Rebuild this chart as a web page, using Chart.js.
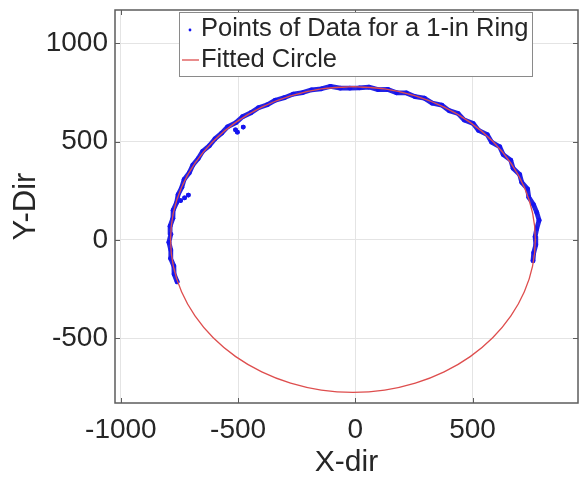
<!DOCTYPE html>
<html><head><meta charset="utf-8">
<script src="https://cdn.jsdelivr.net/npm/chart.js@4/dist/chart.umd.min.js"></script>
<style>html,body{margin:0;padding:0;background:#fff;}#wrap{width:582px;height:479px;}</style>
</head><body><div id="wrap"><canvas id="c" width="582" height="479"></canvas></div>
<script>
const xTickValues = [-1000, -500, 0, 500];
const yTickValues = [-500, 0, 500, 1000];
const seriesLabels = ['Points of Data for a 1-in Ring', 'Fitted Circle'];
const xTitle = 'X-dir';
const yTitle = 'Y-Dir';

// measured ring points (upper arc, left end -> right end)
const ringX = [-760,-773,-774,-788,-787,-795,-787,-790,-778,-777,-762,-756,-740,-730,-708,-693,-670,-651,-622,-599,-570,-545,-509,-481,-445,-413,-375,-341,-302,-265,-224,-186,-145,-106,-64,-23,17,58,97,139,176,218,255,295,328,369,400,439,465,503,526,563,581,616,631,663,673,701,710,735,740,760,774,784,774,767,770,761,758];
const ringY = [-213,-174,-133,-94,-52,-12,29,70,110,151,190,230,268,308,342,381,414,451,480,514,543,575,597,627,647,673,688,711,724,742,750,764,769,781,772,772,774,778,765,766,749,748,729,721,696,686,658,643,610,592,557,536,498,474,434,406,365,333,293,259,217,180,140,100,57,16,-25,-66,-106];
// stray points inside the ring
const strayX = [-745,-728,-712,-511,-503,-478];
const strayY = [200,214,228,560,548,574];

// fitted circle
const circleX = [-10,-145.1,-276.1,-399,-510.1,-606,-683.8,-741.1,-776.2,-788,-776.2,-741.1,-683.8,-606,-510.1,-399,-276.1,-145.1,-10,125.1,256.1,379,490.1,586,663.8,721.1,756.2,768,756.2,721.1,663.8,586,490.1,379,256.1,125.1,-10];
const circleY = [780,768.2,733.1,675.8,598,502.1,391,268.1,137.1,2,-133.1,-264.1,-387,-498.1,-594,-671.8,-729.1,-764.2,-776,-764.2,-729.1,-671.8,-594,-498.1,-387,-264.1,-133.1,2,137.1,268.1,391,502.1,598,675.8,733.1,768.2,780];

const ringData = ringX.map((x, i) => ({x, y: ringY[i]}));
strayX.forEach((x, i) => { ringData.push({x: null, y: null}); ringData.push({x, y: strayY[i]}); });
const circleData = circleX.map((x, i) => ({x, y: circleY[i]}));

const FONT = "'Liberation Sans', Arial, Helvetica, sans-serif";
const AX = '#5c5c5c';
const TXT = '#262626';

const framePlugin = {
  id: 'frame',
  afterDatasetsDraw(chart) {
    const {ctx, chartArea: a, scales} = chart;
    ctx.save();
    ctx.strokeStyle = AX;
    ctx.lineWidth = 1.5;
    ctx.strokeRect(a.left, a.top, a.right - a.left, a.bottom - a.top);
    ctx.lineWidth = 1;
    const tl = 5;
    scales.x.ticks.forEach(t => {
      const px = Math.round(scales.x.getPixelForValue(t.value)) + 0.5;
      ctx.beginPath();
      ctx.moveTo(px, a.bottom); ctx.lineTo(px, a.bottom - tl);
      ctx.moveTo(px, a.top); ctx.lineTo(px, a.top + tl);
      ctx.stroke();
    });
    scales.y.ticks.forEach(t => {
      const py = Math.round(scales.y.getPixelForValue(t.value)) + 0.5;
      ctx.beginPath();
      ctx.moveTo(a.left, py); ctx.lineTo(a.left + tl, py);
      ctx.moveTo(a.right, py); ctx.lineTo(a.right - tl, py);
      ctx.stroke();
    });
    // legend
    const bx = 179.5, by = 12.5, bw = 353, bh = 64;
    ctx.fillStyle = '#fff';
    ctx.fillRect(bx, by, bw, bh);
    ctx.strokeStyle = '#8a8a8a';
    ctx.lineWidth = 1;
    ctx.strokeRect(bx, by, bw, bh);
    const ds = chart.data.datasets;
    ctx.font = '25.5px ' + FONT;
    ctx.fillStyle = TXT;
    ctx.textBaseline = 'middle';
    ctx.textAlign = 'left';
    const rows = [29, 60];
    ds.forEach((d, i) => {
      const y = rows[i];
      if (i === 0) {
        ctx.fillStyle = d.pointBackgroundColor;
        ctx.beginPath(); ctx.arc(190, y + 1, 1.4, 0, Math.PI * 2); ctx.fill();
      } else {
        ctx.strokeStyle = d.borderColor; ctx.lineWidth = 1.3;
        ctx.beginPath(); ctx.moveTo(182, y); ctx.lineTo(199, y); ctx.stroke();
      }
      ctx.fillStyle = TXT;
      ctx.fillText(d.label, 201, y);
    });
    ctx.restore();
  }
};

const noPad = s => { s.paddingTop = 0; s.paddingBottom = 0; s.paddingLeft = 0; s.paddingRight = 0; };

new Chart(document.getElementById('c'), {
  type: 'scatter',
  data: {
    datasets: [
      {
        label: seriesLabels[0], data: ringData, showLine: true, spanGaps: false,
        borderColor: 'rgb(35,35,228)', borderWidth: 4.8,
        borderJoinStyle: 'round', borderCapStyle: 'round',
        pointRadius: 2.4, pointBackgroundColor: 'rgb(20,20,240)', pointBorderWidth: 0,
        order: 1
      },
      {
        label: seriesLabels[1], data: circleData, showLine: true,
        borderColor: 'rgb(222,78,78)', borderWidth: 1.3, pointRadius: 0, tension: 0.33,
        order: 0
      }
    ]
  },
  options: {
    responsive: false, animation: false, devicePixelRatio: 1,
    layout: {padding: {left: 0, right: 1, top: 10, bottom: 0}},
    plugins: {legend: {display: false}, tooltip: {enabled: false}},
    scales: {
      x: {
        type: 'linear', min: -1025, max: 950,
        afterBuildTicks: s => { s.ticks = xTickValues.map(v => ({value: v})); },
        afterFit: s => { s.height = 76; noPad(s); },
        grid: {color: '#e4e4e4', lineWidth: 1, drawTicks: false},
        border: {display: false},
        ticks: {padding: 10, color: TXT, font: {family: FONT, size: 28}, maxRotation: 0, autoSkip: false, callback: v => String(v)},
        title: {display: true, text: xTitle, color: TXT, font: {family: FONT, size: 30, lineHeight: 1}, padding: {top: 0, bottom: 1}}
      },
      y: {
        type: 'linear', min: -830, max: 1170,
        afterBuildTicks: s => { s.ticks = yTickValues.map(v => ({value: v})); },
        afterFit: s => { s.width = 115; noPad(s); },
        grid: {color: '#e4e4e4', lineWidth: 1, drawTicks: false},
        border: {display: false},
        ticks: {padding: 7, color: TXT, font: {family: FONT, size: 28}, autoSkip: false, callback: v => String(v)},
        title: {display: true, text: yTitle, color: TXT, font: {family: FONT, size: 31, lineHeight: 1}, padding: {top: 11, bottom: 0}}
      }
    }
  },
  plugins: [framePlugin]
});
</script></body></html>
